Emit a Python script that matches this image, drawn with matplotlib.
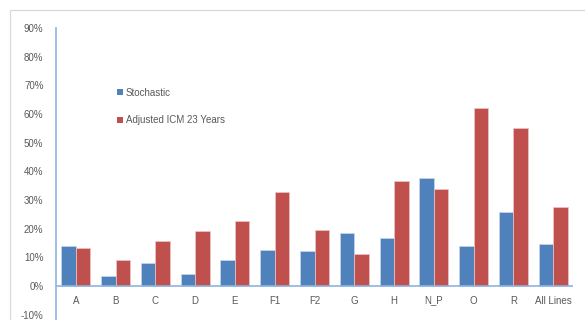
import matplotlib
matplotlib.use("Agg")
import matplotlib.pyplot as plt
from matplotlib.patches import Rectangle, Patch
import numpy as np

categories = ["A", "B", "C", "D", "E", "F1", "F2", "G", "H", "N_P", "O", "R", "All Lines"]
stochastic = [0.14, 0.035, 0.079, 0.041, 0.091, 0.126, 0.122, 0.184, 0.167, 0.376, 0.14, 0.258, 0.146]
adjusted_icm = [0.131, 0.091, 0.157, 0.191, 0.228, 0.327, 0.194, 0.112, 0.367, 0.337, 0.622, 0.55, 0.277]
series_names = ["Stochastic", "Adjusted ICM 23 Years"]
y_ticks = [-0.1, 0.0, 0.1, 0.2, 0.3, 0.4, 0.5, 0.6, 0.7, 0.8, 0.9]

blue = "#4F81BD"
red = "#C0504D"
axis_col = "#8EB4E3"
text_col = "#595959"

plt.rcParams["font.family"] = ["Liberation Sans", "DejaVu Sans"]

W, H = 585, 320
fig = plt.figure(figsize=(W / 100, H / 100), dpi=100)

# outer chart-area frame
fig.patches.append(Rectangle((10 / W, -0.1), 1.2, (H - 10) / H + 0.1,
                             transform=fig.transFigure, fill=False,
                             edgecolor="#D9D9D9", linewidth=0.9))

# 0.9 sits near y=28 px from the top, -0.1 near y=315 px
ax = fig.add_axes([56 / W, 5.3 / H, (573 - 56) / W, (314.7 - 28) / H])

x = np.arange(len(categories))
bw = 0.365
ax.bar(x - bw / 2, stochastic, bw, color=blue, edgecolor="#C9D7EA", linewidth=0.5, zorder=2)
ax.bar(x + bw / 2, adjusted_icm, bw, color=red, edgecolor="#EBC6C5", linewidth=0.5, zorder=2)

ax.set_xlim(-0.5, len(categories) - 0.5)
ax.set_ylim(-0.1, 0.9)
ax.set_yticks(y_ticks)
ax.set_yticklabels([f"{int(round(t * 100))}%" for t in y_ticks])
ax.set_xticks([])

for s in ["top", "right", "bottom"]:
    ax.spines[s].set_visible(False)
ax.spines["left"].set_color(axis_col)
ax.spines["left"].set_linewidth(1.2)
ax.spines["left"].set_bounds(-0.12, 0.9)
ax.spines["left"].set_clip_on(False)
ax.axhline(0, color=axis_col, linewidth=1.2, zorder=3)

ax.tick_params(axis="y", length=0, pad=9, labelsize=7, labelcolor=text_col)

# category names sit on a common baseline below the zero line
for xi, lab in zip(x, categories):
    ax.text(xi, -0.061, lab, ha="center", va="baseline", fontsize=7, color=text_col)

handles = [Patch(facecolor=blue), Patch(facecolor=red)]
leg = ax.legend(handles, series_names, loc="upper left",
                bbox_to_anchor=(0.102, 0.822), frameon=False,
                fontsize=7, labelcolor=text_col,
                handlelength=0.55, handleheight=0.55, handletextpad=0.3,
                labelspacing=1.8)

fig.savefig("out.png", dpi=100, facecolor="white")
